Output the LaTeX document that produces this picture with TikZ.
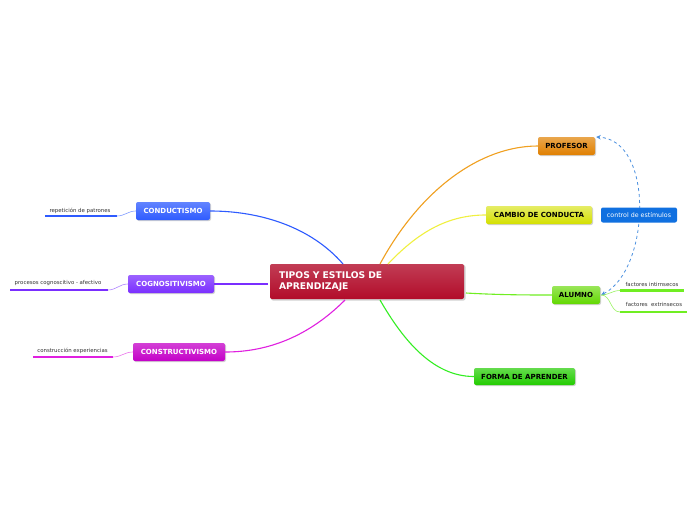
\documentclass[tikz,border=0pt]{standalone}
\usepackage{fontspec}
\setmainfont{DejaVu Sans}
\usetikzlibrary{arrows.meta}
\definecolor{cred}{HTML}{B20C2A}
\definecolor{cblue}{HTML}{2E5BFF}
\definecolor{cpurple}{HTML}{7A2EFF}
\definecolor{cmag}{HTML}{C400C8}
\definecolor{corange}{HTML}{E08000}
\definecolor{cyel}{HTML}{D4E000}
\definecolor{cctrl}{HTML}{1070E0}
\definecolor{calum}{HTML}{62D800}
\definecolor{cforma}{HTML}{22CC00}
\definecolor{lblue}{HTML}{2E5BFF}
\definecolor{lpurple}{HTML}{7A2EFF}
\definecolor{lmag}{HTML}{E020E0}
\definecolor{lorange}{HTML}{F0A020}
\definecolor{lyel}{HTML}{F0F040}
\definecolor{lgreen}{HTML}{70EE22}
\definecolor{lgreen2}{HTML}{33EE22}
\definecolor{dashb}{HTML}{4A90E0}
\tikzset{
  box/.style={rounded corners=2pt, inner sep=0pt, font=\bfseries\fontsize{7}{8}\selectfont},
  wbox/.style={box, text=white},
  bbox/.style={box, text=black},
  leaf/.style={inner sep=0pt, font=\fontsize{5.4}{6}\selectfont, text=black!80},
  conn/.style={line width=1.1pt},
  under/.style={line width=2.4pt},
  shad/.style={fill=black, opacity=0.18, rounded corners=2pt},
}
\begin{document}
\begin{tikzpicture}[x=1pt,y=-1pt]
\fill[white] (0,0) rectangle (696,520);
\useasboundingbox (0,0) rectangle (696,520);

% shadows
\fill[shad] (271,265) rectangle (465.5,300.5);
\fill[shad] (137,203) rectangle (211,221);
\fill[shad] (129,276) rectangle (215,294);
\fill[shad] (134,344) rectangle (226,362);
\fill[shad] (539,138) rectangle (596,156);
\fill[shad] (487,207) rectangle (593,225);
\fill[shad] (553,287) rectangle (601,305);
\fill[shad] (475,369) rectangle (576,386);

% central
\node[wbox, top color=cred!80, bottom color=cred, minimum width=194pt, minimum height=35pt,
  text width=176pt, align=left, font=\bfseries\fontsize{9.2}{11.5}\selectfont] (c) at (367,281.5)
  {TIPOS Y ESTILOS DE\\APRENDIZAJE};

% branches
\node[wbox, top color=cblue!75, bottom color=cblue, minimum width=74pt, minimum height=18pt] (cond) at (173,211) {CONDUCTISMO};
\node[wbox, top color=cpurple!75, bottom color=cpurple, minimum width=86pt, minimum height=18pt] (cogn) at (171,284) {COGNOSITIVISMO};
\node[wbox, top color=cmag!75, bottom color=cmag, minimum width=92pt, minimum height=18pt] (cons) at (179,352) {CONSTRUCTIVISMO};
\node[bbox, top color=corange!70, bottom color=corange, minimum width=57pt, minimum height=18pt] (prof) at (566.5,146) {PROFESOR};
\node[bbox, top color=cyel!60, bottom color=cyel, minimum width=106pt, minimum height=18pt] (camb) at (539,215) {CAMBIO DE CONDUCTA};
\node[bbox, top color=calum!65, bottom color=calum, minimum width=48pt, minimum height=18pt] (alum) at (576,295) {ALUMNO};
\node[bbox, top color=cforma!70, bottom color=cforma, minimum width=101pt, minimum height=17pt] (forma) at (524.5,376.5) {FORMA DE APRENDER};

% central anchors
\coordinate (c1) at (343,264);
\coordinate (c2) at (268,284);
\coordinate (c3) at (345,300);
\coordinate (c4) at (380,264);
\coordinate (c5) at (388,264);
\coordinate (c6) at (466,293);
\coordinate (c7) at (380,300);

% main connectors
\draw[conn, lblue] (c1) .. controls (312,228) and (262,211) .. (cond.east);
\draw[conn, lpurple] (c2) -- (cogn.east);
\draw[conn, lmag] (c3) .. controls (310,335) and (270,352) .. (cons.east);
\draw[conn, lorange] (c4) .. controls (420,190) and (480,146) .. (prof.west);
\draw[conn, lyel] (c5) .. controls (420,230) and (450,215) .. (camb.west);
\draw[conn, lgreen] (c6) .. controls (500,295) and (530,295) .. (alum.west);
\draw[conn, lgreen2] (c7) to[out=-60, in=180, looseness=0.9] (forma.west);

% relation
\draw[line width=0.8pt, dashb, dashed, {Stealth[length=4.5pt,width=4.5pt]}-{Stealth[length=4.5pt,width=4.5pt]}]
  ([xshift=1pt]alum.east) .. controls (650,270) and (655,140) .. ([xshift=1pt,yshift=9pt]prof.east);
\node[box, font=\fontsize{6.3}{7}\selectfont, text=white, fill=cctrl, minimum width=76pt, minimum height=15pt] (ctrl) at (639,215) {control de estímulos};

% leaves left
\node[leaf] (l1) at (80,210.5) {repetición de patrones};
\coordinate (u1a) at (45,216); \coordinate (u1b) at (117,216);
\draw[under, lblue] (u1a) -- (u1b);
\draw[line width=0.6pt, lblue!60] (cond.west) to[out=180,in=0] (u1b);

\node[leaf] (l2) at (58,283) {procesos cognoscitivo - afectivo};
\coordinate (u2a) at (10,290); \coordinate (u2b) at (108,290);
\draw[under, lpurple] (u2a) -- (u2b);
\draw[line width=0.6pt, lpurple!60] (cogn.west) to[out=180,in=0] (u2b);

\node[leaf] (l3) at (72.5,351) {construcción experiencias};
\coordinate (u3a) at (33,357); \coordinate (u3b) at (113,357);
\draw[under, lmag] (u3a) -- (u3b);
\draw[line width=0.6pt, lmag!60] (cons.west) to[out=180,in=0] (u3b);

% leaves right
\node[leaf] (l4) at (652,284.5) {factores intirnsecos};
\coordinate (u4a) at (620,290.5); \coordinate (u4b) at (684,290.5);
\draw[under, lgreen] (u4a) -- (u4b);
\draw[line width=0.6pt, lgreen!70] ([xshift=1pt]alum.east) to[out=0,in=180] (u4a);

\node[leaf] (l5) at (654,304.5) {factores\ \ extrinsecos};
\coordinate (u5a) at (620,312); \coordinate (u5b) at (687,312);
\draw[under, lgreen] (u5a) -- (u5b);
\draw[line width=0.6pt, lgreen!70] ([xshift=1pt]alum.east) to[out=0,in=180] (u5a);
\end{tikzpicture}
\end{document}
